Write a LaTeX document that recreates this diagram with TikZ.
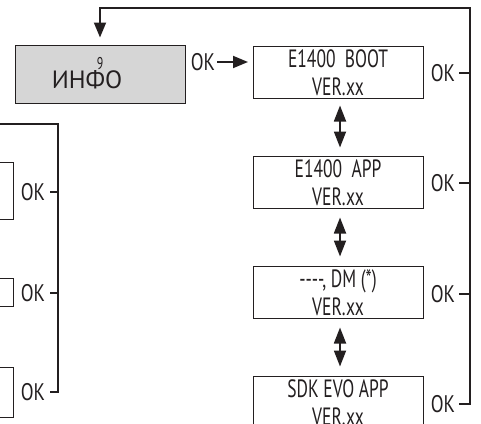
\documentclass[tikz,border=0pt]{standalone}
\usepackage{fontspec}
\setmainfont{PT Sans}
\newfontfamily\narrowfont[FakeStretch=0.7]{PT Sans}
\newfontfamily\okfont[FakeStretch=0.78]{PT Sans}
\usetikzlibrary{arrows.meta}
\definecolor{inkblack}{RGB}{35,31,32}
\definecolor{panelgray}{RGB}{214,214,214}

\begin{document}
\begin{tikzpicture}[x=1pt,y=-1pt,inkblack,
	panel/.style={draw,line width=1pt,minimum width=170pt,minimum height=52pt,inner sep=0pt,align=center,
		font=\narrowfont\fontsize{25}{28}\selectfont},
	stub/.style={draw,line width=1pt,minimum width=170pt,inner sep=0pt},
	oklabel/.style={inner sep=0pt,font=\okfont\fontsize{24}{24}\selectfont},
	wire/.style={line width=1.8pt},
	tip/.style={-{Triangle[length=15pt,width=12pt]}},
	updown/.style={line width=1.8pt,{Triangle[length=16pt,width=12pt]}-{Triangle[length=16pt,width=12pt]}}]
%
	\useasboundingbox (0,0) rectangle (481,423);
	\clip (0,0) rectangle (481,423);
%
	% info panel
	\node[stub,fill=panelgray,minimum height=58pt] (info) at (100,74) {};
	\node[anchor=base,inner sep=0pt,font=\narrowfont\fontsize{17}{17}\selectfont] (infonum) at (100,69) {9};
	\node[anchor=base,inner sep=0pt,font=\fontsize{25}{25}\selectfont] (infoname) at (87,88) {ИНФО};
	\node[oklabel] (okinfo) at (203,62) {OK};
	\draw[wire,tip,shorten >=5pt] ([xshift=2pt]okinfo.east) -- (okinfo.east -| 253,0);
%
	% version panels
	\node[panel] (boot) at (338,72) {\rule{0pt}{20pt}E1400\ \ BOOT\\VER.xx};
	\node[panel] (app) at (338,182) {\rule{0pt}{20pt}E1400\ \ APP\\VER.xx};
	\node[panel] (dm) at (338,292) {\rule{0pt}{20pt}-{}-{}-{}-, DM (*)\\VER.xx};
	\node[panel] (sdk) at (338,402) {\rule{0pt}{20pt}SDK EVO APP\\VER.xx};
	\draw[updown,shorten <=7pt,shorten >=8pt] ([xshift=2pt]boot.south) -- ([xshift=2pt]app.north);
	\draw[updown,shorten <=9pt,shorten >=9pt] ([xshift=2pt]app.south) -- ([xshift=2pt]dm.north);
	\draw[updown,shorten <=9pt,shorten >=9pt] ([xshift=2pt]dm.south) -- ([xshift=2pt]sdk.north);
%
	\node[oklabel] (okboot) at (443,73) {OK};
	\node[oklabel] (okapp) at (443,183) {OK};
	\node[oklabel] (okdm) at (443,294) {OK};
	\node[oklabel] (oksdk) at (443,404) {OK};
	\coordinate (railtop) at (470,8);
	\draw[wire] ([xshift=4pt]okboot.east) -- (okboot.east -| railtop);
	\draw[wire] ([xshift=4pt]okapp.east) -- (okapp.east -| railtop);
	\draw[wire] ([xshift=4pt]okdm.east) -- (okdm.east -| railtop);
	\draw[wire,tip,shorten >=7pt] ([xshift=4pt]oksdk.east) -- (oksdk.east -| railtop) -- (railtop)
		-- (railtop -| info.north) -- (info.north);
%
	% left column, cut off
	\node[stub,minimum height=57pt] (lpanel1) at (-72,190.5) {};
	\node[stub,minimum height=28pt] (lpanel2) at (-72,292) {};
	\node[stub,minimum height=50pt] (lpanel3) at (-72,392) {};
	\node[oklabel] (okl1) at (33,192) {OK};
	\node[oklabel] (okl2) at (33,293) {OK};
	\node[oklabel] (okl3) at (33,392) {OK};
	\coordinate (lrailtop) at (58,124);
	\coordinate (lrailend) at (-5,124);
	\draw[wire] ([xshift=5pt]okl1.east) -- (okl1.east -| lrailtop);
	\draw[wire] ([xshift=5pt]okl2.east) -- (okl2.east -| lrailtop);
	\draw[wire] ([xshift=5pt]okl3.east) -- (okl3.east -| lrailtop) -- (lrailtop) -- (lrailend);
%
\end{tikzpicture}
\end{document}
